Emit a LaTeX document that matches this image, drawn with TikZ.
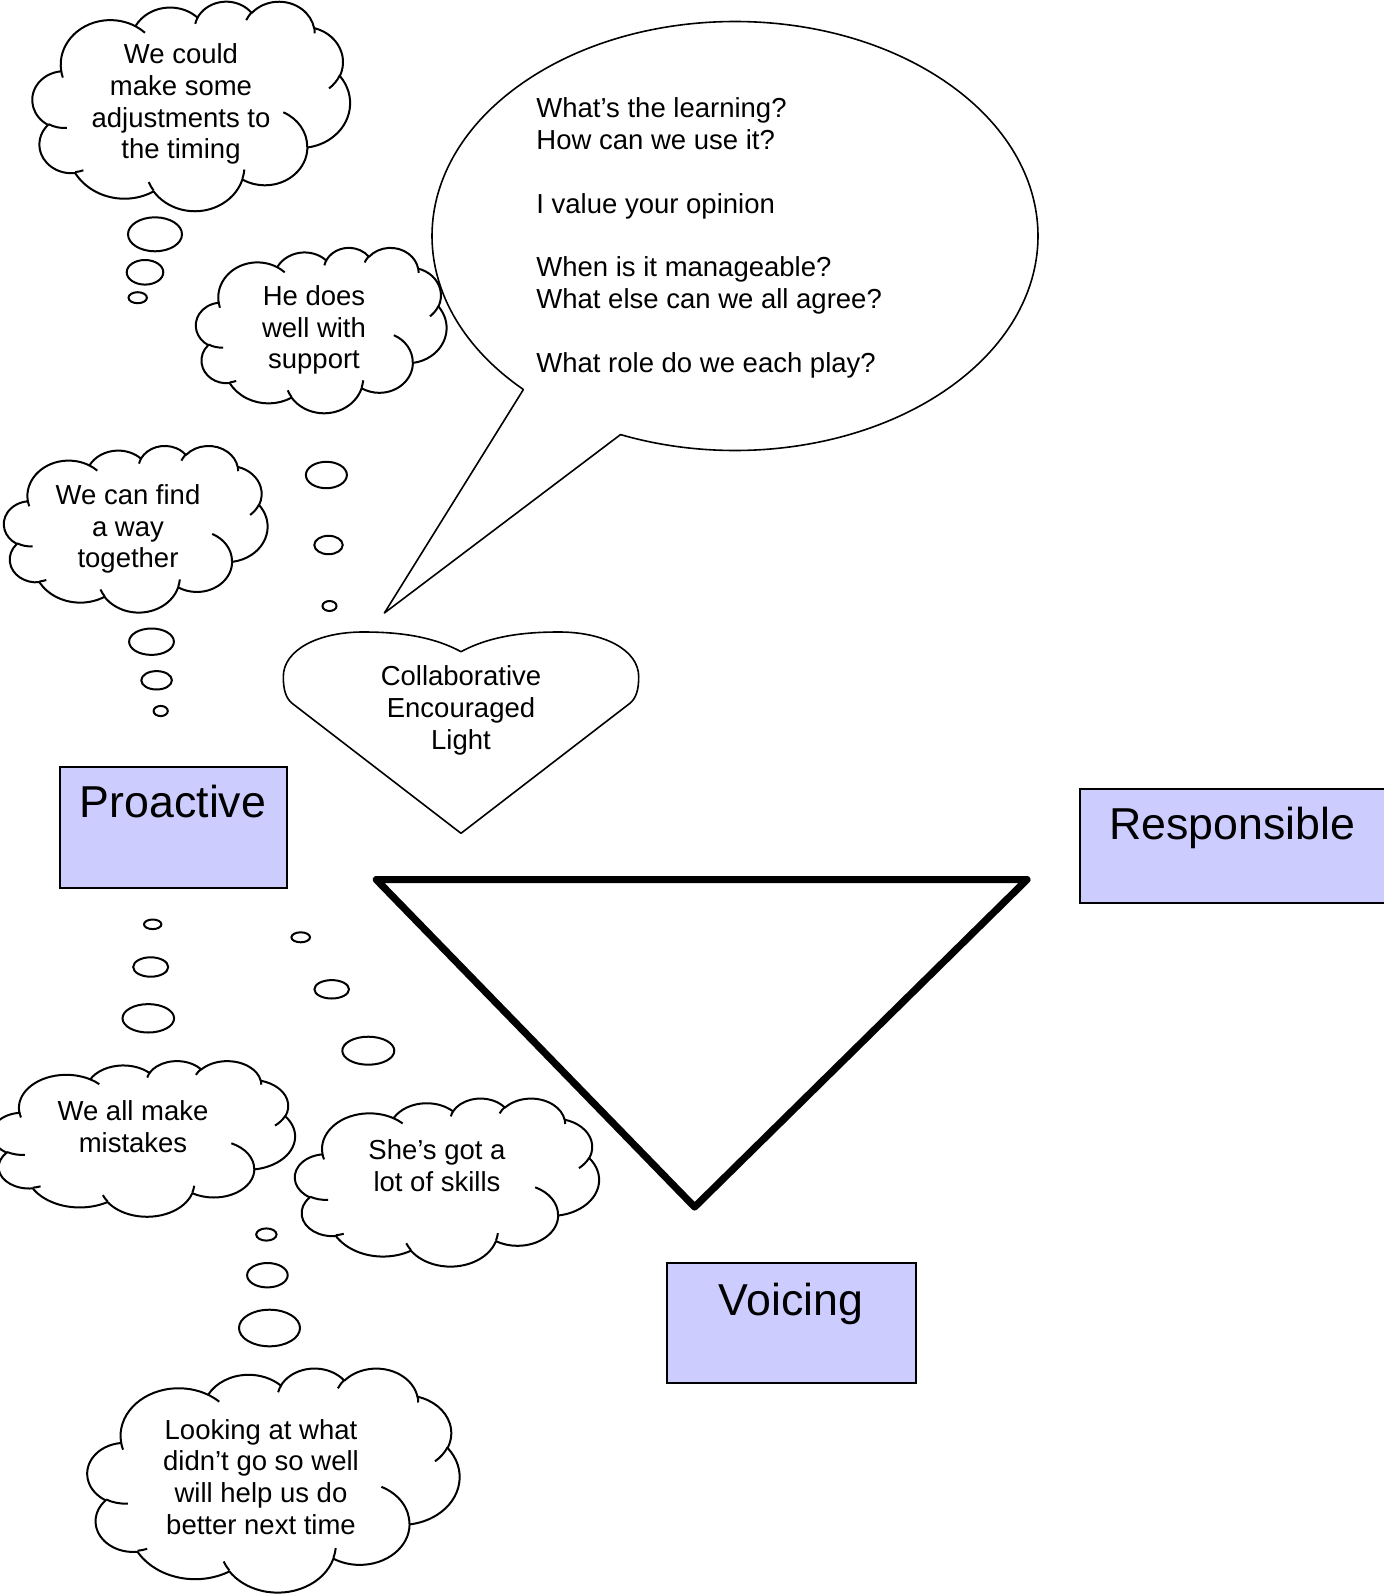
\documentclass[tikz,border=0pt]{standalone}
\usepackage{fontspec}
\setmainfont{Liberation Sans}

% One lobe of a cloud outline: x radius, y radius, start angle, sweep.
% The angles are measured from the lobe centre to the point on the outline,
% so they are turned into the parametric angles that TikZ's arc expects.
\newcommand\lobe[4]{arc[x radius=#1, y radius=#2,
  start angle={atan2((#1)*sin(#3),(#2)*cos(#3))},
  delta angle={mod(atan2((#1)*sin((#3)+(#4)),(#2)*cos((#3)+(#4)))-atan2((#1)*sin(#3),(#2)*cos(#3))+720,360)}]}

% Cloud in a box: left, top, width, height (picture units, y downwards).
\newcommand\cloudat[4]{%
  \begin{scope}[shift={(#1,#2)}, xscale={#3/43.2}, yscale={#4/43.2}]
    \draw[cloudline] (3.9,14.37)
      \lobe{6.753}{9.19}{-190.4875}{123.7805}
      \lobe{5.333}{7.267}{-144.1024}{89.9452}
      \lobe{4.365}{5.945}{-145.8079}{99.7230}
      \lobe{4.857}{6.595}{-130.9861}{117.2417}
      \lobe{5.333}{7.273}{-78.7089}{109.0269}
      \lobe{6.775}{9.22}{-46.2673}{130.2690}
      \lobe{5.785}{7.867}{0.625}{114.0333}
      \lobe{6.752}{9.215}{22.4516}{115.1726}
      \lobe{7.72}{10.543}{66.2426}{75.7110}
      \lobe{4.36}{5.918}{-274.9421}{146.7356}
      \lobe{4.345}{5.945}{-246.8285}{152.5189} -- cycle;
    \draw[cloudline]
      (4.693,26.177) \lobe{4.345}{5.945}{86.742}{26.4295}
      (6.928,34.899) \lobe{4.36}{5.918}{73.6105}{11.4475}
      (16.478,39.09) \lobe{6.752}{9.215}{137.6242}{14.0811}
      (28.827,34.751) \lobe{6.752}{9.215}{6.4533}{15.9984}
      (34.129,22.954) \lobe{5.785}{7.867}{-70.2924}{70.9174}
      (41.798,15.354) \lobe{5.333}{7.273}{30.318}{27.7515}
      (38.324,5.426) \lobe{4.857}{6.595}{-13.7443}{14.8589}
      (29.078,3.952) \lobe{4.857}{6.595}{-149.1815}{18.1954}
      (22.141,4.72) \lobe{4.365}{5.945}{-163.4943}{17.6864}
      (14,5.192) \lobe{6.753}{9.19}{-66.707}{12.3194}
      (4.127,15.789) \lobe{6.753}{9.19}{157.6544}{11.8582};
  \end{scope}}

\tikzset{
  cloudline/.style={draw=black, line width=1pt, line join=round},
  puff/.style={draw=black, line width=1pt},
  thinline/.style={draw=black, line width=0.8pt, line join=round},
  txt/.style={font=\fontsize{13.75}{15.9}\selectfont, align=center, inner sep=0pt},
  bigtxt/.style={font=\fontsize{22.35}{25.7}\selectfont, inner sep=0pt, anchor=base},
  boxshape/.style={draw=black, line width=1pt, fill=lavender, inner sep=0pt},
  tri/.style={draw=black, line width=3.6pt, line join=round},
}
\definecolor{lavender}{RGB}{204,204,255}

\begin{document}
\begin{tikzpicture}[x=0.5pt, y=-0.5pt]
  \useasboundingbox (0,0) rectangle (1383,1594);
  \fill[white] (0,0) rectangle (1383,1594);

  % speech bubble with its pointer
  \coordinate (bc) at (735,236);
  \coordinate (tip) at (384.4,613);
  \draw[thinline] (bc) ++(134.3:303 and 214.5)
    arc[start angle=134.3, delta angle=337.9, x radius=303, y radius=214.5]
    -- (tip) -- cycle;
  \node[txt, align=left, anchor=west] (questions) at (536,238)
    {What’s the learning?\\How can we use it?\\[15.9pt]I value your opinion\\[15.9pt]When is it manageable?\\What else can we all agree?\\[15.9pt]What role do we each play?};

  % thought clouds
  \cloudat{32.5}{1}{317.5}{209.5}
  \node[txt] (timing) at (181,104) {We could\\make some\\adjustments to\\the timing};
  \cloudat{196}{247.3}{250.5}{165.4}
  \node[txt] (support) at (314,330) {He does\\well with\\support};
  \cloudat{4}{445.4}{263.5}{166.6}
  \node[txt] (together) at (128,529) {We can find\\a way\\together};
  \cloudat{-8}{1060.6}{303}{155.6}
  \node[txt] (mistakes) at (133,1127) {We all make\\mistakes};
  \cloudat{295}{1098}{304}{168}
  \node[txt] (skills) at (437,1166) {She’s got a\\lot of skills};
  \cloudat{87.5}{1367.8}{372}{224}
  \node[txt] (nexttime) at (261,1477) {Looking at what\\didn’t go so well\\will help us do\\better next time};

  % trails of small bubbles
  \draw[puff] (155,234.3) ellipse[x radius=27, y radius=17];
  \draw[puff] (145,272.3) ellipse[x radius=18.3, y radius=12.3];
  \draw[puff] (137.7,297.7) ellipse[x radius=9.2, y radius=5.5];

  \draw[puff] (326.4,475) ellipse[x radius=20.5, y radius=13.2];
  \draw[puff] (328.5,545) ellipse[x radius=14.2, y radius=9.2];
  \draw[puff] (329.5,606) ellipse[x radius=7, y radius=5];

  \draw[puff] (151.5,641.7) ellipse[x radius=22.4, y radius=13.2];
  \draw[puff] (156.6,680.3) ellipse[x radius=15.3, y radius=9.2];
  \draw[puff] (160.7,711) ellipse[x radius=7.1, y radius=5.1];

  \draw[puff] (152.7,924.3) ellipse[x radius=8.7, y radius=4.8];
  \draw[puff] (150.7,967) ellipse[x radius=17.5, y radius=9.7];
  \draw[puff] (148.3,1018.3) ellipse[x radius=25.8, y radius=14.2];

  \draw[puff] (300.7,937.3) ellipse[x radius=9.3, y radius=5];
  \draw[puff] (331.7,989.3) ellipse[x radius=17.3, y radius=9.2];
  \draw[puff] (368.3,1050.7) ellipse[x radius=26, y radius=14];

  \draw[puff] (266.4,1234.5) ellipse[x radius=10.2, y radius=6.1];
  \draw[puff] (267.4,1275.2) ellipse[x radius=20.3, y radius=12.2];
  \draw[puff] (269.5,1328) ellipse[x radius=30.5, y radius=18.3];

  % heart
  \draw[thinline] (461,651.7)
    .. controls (432,636) and (398,632) .. (363,632)
    .. controls (318,632) and (283.3,650) .. (283.3,676.7)
    .. controls (283.3,690) and (286,698) .. (291.7,703)
    -- (461,833.3) -- (630.3,703)
    .. controls (636,698) and (638.7,690) .. (638.7,676.7)
    .. controls (638.7,650) and (604,632) .. (559,632)
    .. controls (524,632) and (490,636) .. (461,651.7) -- cycle;
  \node[txt] (heart) at (461,710.5) {Collaborative\\Encouraged\\Light};

  % triangle
  \coordinate (tl) at (376.3,879.6);
  \coordinate (tr) at (1027,879.6);
  \coordinate (tb) at (694.6,1207);
  \draw[tri] (tl) -- (tr) -- (tb) -- cycle;

  % labelled boxes
  \node[boxshape, minimum width=113.5pt, minimum height=60.5pt] (proactive) at (173.5,827.5) {};
  \node[bigtxt] (proactive-t) at (173,817) {Proactive};
  \node[boxshape, minimum width=153pt, minimum height=57pt] (responsible) at (1233,846) {};
  \node[bigtxt] (responsible-t) at (1232,839.5) {Responsible};
  \node[boxshape, minimum width=124.5pt, minimum height=60pt] (voicing) at (791.5,1323.3) {};
  \node[bigtxt] (voicing-t) at (791,1315) {Voicing};
\end{tikzpicture}
\end{document}
